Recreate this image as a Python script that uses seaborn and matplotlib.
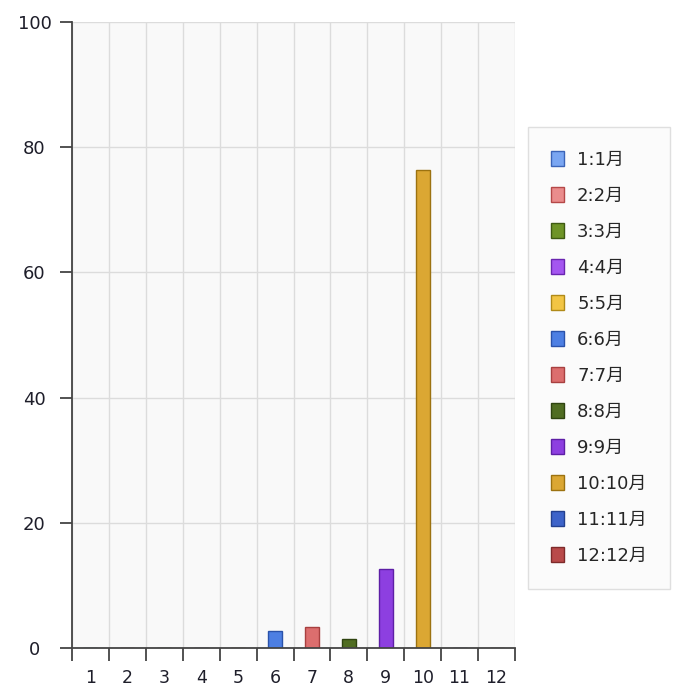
import numpy as np
import pandas as pd
import matplotlib
matplotlib.use("Agg")
import matplotlib.pyplot as plt
import seaborn as sns

# data
months = list(range(1, 13))
values = [0, 0, 0, 0, 0, 2.7, 3.4, 1.5, 12.6, 76.4, 0, 0]
legend_labels = [f"{m}:{m}月" for m in months]
colors = ["#7aa6f2", "#ea8c8c", "#6e9427", "#a456f0", "#f2c544",
          "#4d7fe3", "#dc6e6e", "#506d22", "#8d3fe0", "#dba733",
          "#3d63c9", "#b94a4a"]
edges = ["#3b64b8", "#b54848", "#3e5a12", "#6a25b0", "#b08a18",
         "#2a52aa", "#a84040", "#2f4410", "#5e1fa6", "#9c7210",
         "#23408f", "#7e2a2a"]

sns.set_style("white")
plt.rcParams['font.family'] = ['DejaVu Sans', 'Noto Sans CJK SC']

df = pd.DataFrame({"x": [str(m) for m in months], "value": values,
                   "label": legend_labels})

fig = plt.figure(figsize=(6.75, 6.93), dpi=100)
ax = fig.add_axes([72 / 675, 1 - 648 / 693, (515 - 72) / 675, (648 - 22) / 693])
ax.set_facecolor("#f9f9f9")

sns.barplot(data=df, x="x", y="value", hue="label", palette=colors,
            dodge=False, width=0.38, ax=ax, legend=True, saturation=1)

# darker edge on each bar
for i, bar in enumerate(ax.containers):
    for p in bar:
        p.set_edgecolor(edges[i])
        p.set_linewidth(1.0)

ax.set_xlim(-0.5, 11.5)
ax.set_ylim(0, 100)
ax.set_xlabel("")
ax.set_ylabel("")

# gridlines on category boundaries, labels centered in each category
ax.set_xticks(np.arange(-0.5, 12, 1))
ax.set_xticklabels([])
ax.set_xticks(np.arange(0, 12), minor=True)
ax.set_xticklabels([str(m) for m in months], minor=True, fontsize=12.5, color="#1e1e2a")
ax.tick_params(axis="x", which="major", bottom=True, length=9, width=1.3,
               color="#444444", direction="out")
ax.tick_params(axis="x", which="minor", bottom=True, length=0, pad=15)
ax.set_yticks([0, 20, 40, 60, 80, 100])
ax.set_yticklabels(["0", "20", "40", "60", "80", "100"], fontsize=13, color="#1e1e2a")
for t in ax.get_yticklabels():
    t.set_horizontalalignment("center")
ax.tick_params(axis="y", left=True, length=9, width=1.3, color="#444444",
               direction="out", pad=18)
ax.grid(True, which="major", color="#dcdcdc", linewidth=1)
ax.set_axisbelow(True)

for s in ["top", "right"]:
    ax.spines[s].set_visible(False)
for s in ["left", "bottom"]:
    ax.spines[s].set_color("#444444")
    ax.spines[s].set_linewidth(1.3)

handles, labels = ax.get_legend_handles_labels()
for h, e in zip(handles, edges):
    h.set_edgecolor(e)
leg = ax.legend(handles, labels, loc="upper left", bbox_to_anchor=(528 / 675, 1 - 127 / 693),
                bbox_transform=fig.transFigure, frameon=True, fontsize=13,
                handlelength=0.72, handleheight=0.9, handletextpad=0.7,
                labelspacing=1.0, borderpad=1.3, borderaxespad=0, fancybox=False)
leg.get_frame().set_edgecolor("#d8d8d8")
leg.get_frame().set_facecolor("#fafafa")
leg.get_frame().set_linewidth(1)

fig.savefig("out.png", dpi=100)
